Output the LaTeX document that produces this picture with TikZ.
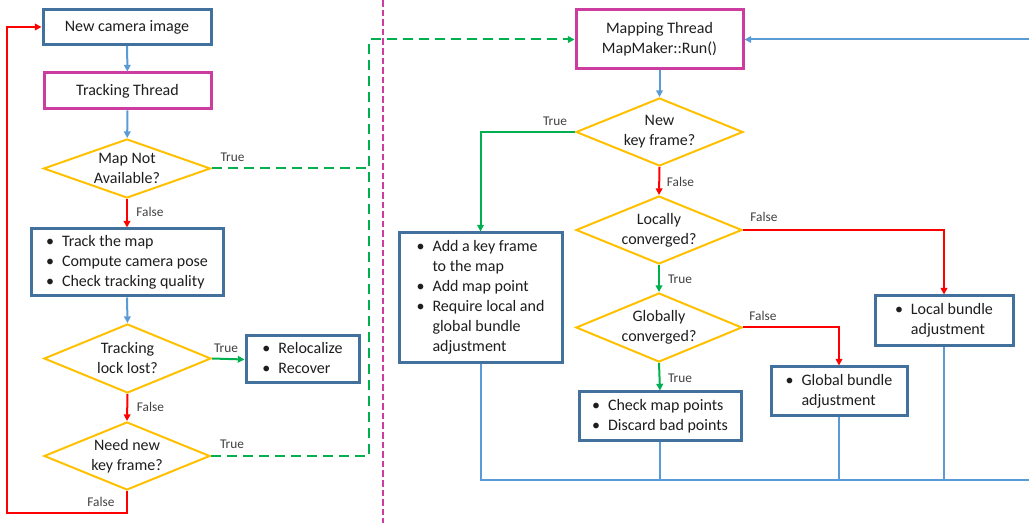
\documentclass[tikz,border=0pt]{standalone}
\usepackage{fontspec}
\setmainfont{Carlito}
\usetikzlibrary{shapes.geometric,arrows.meta}
\definecolor{boxblue}{HTML}{41719C}
\definecolor{magent}{HTML}{CC3D9F}
\definecolor{orng}{HTML}{FFC000}
\definecolor{lblue}{HTML}{5B9BD5}
\definecolor{grn}{HTML}{00B050}
\definecolor{rd}{HTML}{FF0000}
\definecolor{txt}{HTML}{1E1E1E}
\definecolor{lbltxt}{HTML}{404040}
\newcommand\mainfs{\fontsize{12}{15}\selectfont}
\newcommand\lblfs{\fontsize{10}{12}\selectfont}
\newcommand\bl[1]{\begin{tabular}{@{}l@{\hspace{6pt}}l@{}}#1\end{tabular}}
\tikzset{
  sz/.style 2 args={minimum width=#1*0.75pt, minimum height=#2*0.75pt, inner sep=0pt},
  bbox/.style={draw=boxblue, line width=2.25pt, fill=white, font=\mainfs, text=txt},
  mbox/.style={draw=magent, line width=2.25pt, fill=white, font=\mainfs, text=txt, align=center},
  dia/.style={diamond, draw=orng, line width=1.5pt, inner sep=0pt},
  dtext/.style={font=\mainfs, text=txt, align=center, inner sep=0pt},
  lbl/.style={font=\lblfs, text=lbltxt, inner sep=0pt},
  tip/.style={-{Triangle[length=5pt,width=5pt]}},
  cblue/.style={draw=lblue, line width=1.5pt},
  cred/.style={draw=rd, line width=1.5pt},
  cgreen/.style={draw=grn, line width=1.5pt},
  gdash/.style={draw=grn, line width=1.5pt, dash pattern=on 7.5pt off 4.5pt},
  sepline/.style={draw=magent, line width=2pt, dash pattern=on 5pt off 2.2pt},
}
\begin{document}
\begin{tikzpicture}[x=0.75pt,y=-0.75pt]
\useasboundingbox (0,0) rectangle (1029,523);

% ---------- left: tracking ----------
\node[bbox, sz={168}{35}] (cam) at (127,27) {New camera image};
\node[mbox, sz={167}{36}] (trk) at (127.5,91) {Tracking Thread};
\node[dia, sz={167}{59}] (d1) at (127,168.5) {};
\node[dtext] (d1t) at (d1) {Map Not\\Available?};
\node[bbox, sz={192}{67}] (bx1) at (127,262.5) {\bl{\textbullet & Track the map\\ \textbullet & Compute camera pose\\ \textbullet & Check tracking quality}};
\node[dia, sz={167}{69}] (d2) at (127.5,358.5) {};
\node[dtext] (d2t) at (d2) {Tracking\\lock lost?};
\node[bbox, sz={113}{47}] (rel) at (302.5,359.5) {\bl{\textbullet & Relocalize\\ \textbullet & Recover}};
\node[dia, sz={166}{68}] (d3) at (127,456) {};
\node[dtext] (d3t) at (d3) {Need new\\key frame?};

% separator
\coordinate (st) at (383,0);
\coordinate (sb) at (383,523);
\draw[sepline] (st) -- (sb);

% ---------- right: mapping ----------
\node[mbox, sz={167}{59}] (map) at (659.5,39.5) {Mapping Thread\\MapMaker::Run()};
\node[dia, sz={167}{68}] (d4) at (659.5,132) {};
\node[dtext] (d4t) at (d4) {New\\key frame?};
\node[dia, sz={166}{68}] (d5) at (659,230) {};
\node[dtext] (d5t) at (d5) {Locally\\converged?};
\node[dia, sz={166}{69}] (d6) at (659,327.5) {};
\node[dtext] (d6t) at (d6) {Globally\\converged?};
\node[bbox, sz={163}{130}] (add) at (480.5,298) {\bl{\textbullet & Add a key frame\\ & to the map\\ \textbullet & Add map point\\ \textbullet & Require local and\\ & global bundle\\ & adjustment}};
\node[bbox, sz={162}{49}] (chk) at (660,416.5) {\bl{\textbullet & Check map points\\ \textbullet & Discard bad points}};
\node[bbox, sz={136}{49}] (glb) at (839,391.5) {\bl{\textbullet & Global bundle\\ & adjustment}};
\node[bbox, sz={138}{50}] (loc) at (944,321) {\bl{\textbullet & Local bundle\\ & adjustment}};

% ---------- connectors: left ----------
\draw[cblue, tip] (cam) -- (trk);
\draw[cblue, tip] (trk) -- (d1);
\draw[cred, tip] (d1.south) -- (bx1.north);
\draw[cblue, tip] (bx1.south) -- (d2.north);
\draw[cgreen, tip] (d2.east) -- (rel.west);
\draw[cred, tip] (d2.south) -- (d3.north);
\coordinate (lb) at (7,513);
\draw[cred, tip] (d3.south) |- (lb) |- (cam.west);

% green dashed to mapping thread
\coordinate (gtop) at (369,40);
\draw[gdash] (d1.east) -- (d1.east -| gtop);
\draw[gdash, tip] (d3.east) -- (d3.east -| gtop) -- (gtop |- map.west) -- (map.west);

% labels left
\node[lbl] (l1) at ([shift={(21,-11)}]d1.east) {True};
\node[lbl] (l2) at ([shift={(23,13)}]d1.south) {False};
\node[lbl] (l3) at ([shift={(14,-10)}]d2.east) {True};
\node[lbl] (l4) at ([shift={(23,13)}]d2.south) {False};
\node[lbl] (l5) at ([shift={(21,-12)}]d3.east) {True};
\node[lbl] (l6) at ([shift={(-26,11)}]d3.south) {False};

% ---------- connectors: right ----------
\draw[cblue, tip] (map.south) -- (d4.north);
\draw[cgreen, tip] (d4.west) -| (add.north);
\draw[cred, tip] (d4.south) -- (d5.north);
\draw[cred, tip] (d5.east) -| (loc.north);
\draw[cgreen, tip] (d5.south) -- (d6.north);
\draw[cred, tip] (d6.east) -| (glb.north);
\draw[cgreen, tip] (d6.south) -- (chk.north);

\coordinate (busR) at (1040,480);
\draw[cblue, tip] (add.south) |- (busR) -- (busR |- map.east) -- (map.east);
\draw[cblue] (chk.south) -- (chk.south |- busR);
\draw[cblue] (glb.south) -- (glb.south |- busR);
\draw[cblue] (loc.south) -- (loc.south |- busR);

% labels right
\node[lbl] (r1) at ([shift={(-20,-11)}]d4.west) {True};
\node[lbl] (r2) at ([shift={(21,15)}]d4.south) {False};
\node[lbl] (r3) at ([shift={(21,-13)}]d5.east) {False};
\node[lbl] (r4) at ([shift={(21,14)}]d5.south) {True};
\node[lbl] (r5) at ([shift={(20,-12)}]d6.east) {False};
\node[lbl] (r6) at ([shift={(21,15)}]d6.south) {True};
\end{tikzpicture}
\end{document}
